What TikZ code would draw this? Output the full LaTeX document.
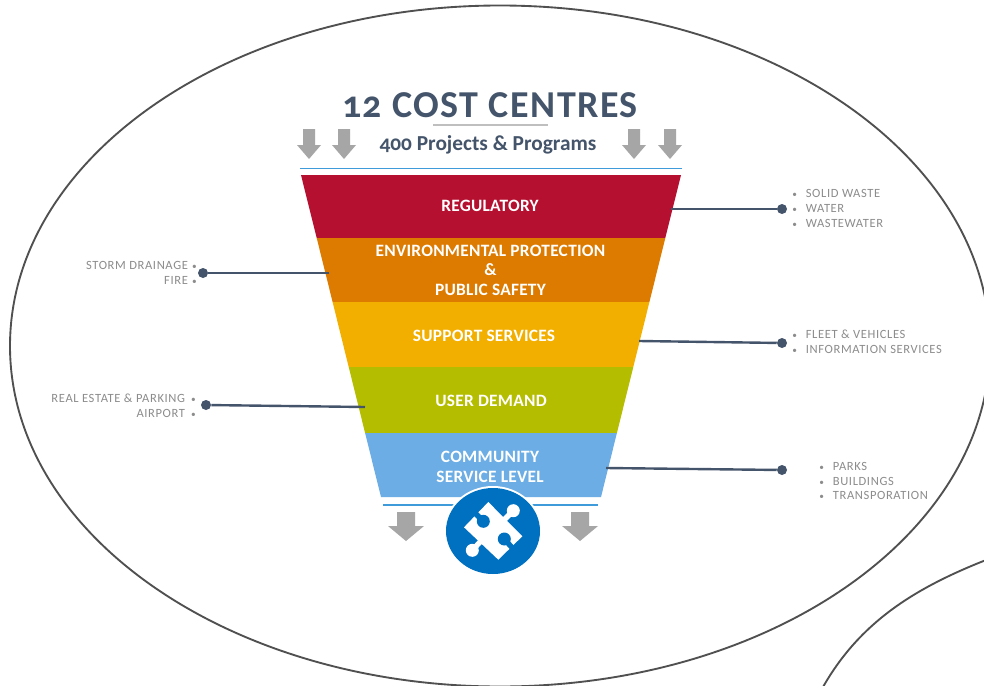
\documentclass[tikz,border=0pt]{standalone}
\usepackage{fontspec}
\setmainfont[Numbers=OldStyle]{Carlito}
\definecolor{slate}{HTML}{44546A}
\definecolor{outl}{HTML}{505050}
\definecolor{arrgray}{HTML}{A6A6A6}
\definecolor{txtgray}{HTML}{8C8C8C}
\definecolor{rulegray}{HTML}{BFBFBF}
\definecolor{skyline}{HTML}{3F9BD9}
\definecolor{bandred}{HTML}{B51030}
\definecolor{bandorange}{HTML}{DD7A00}
\definecolor{bandyellow}{HTML}{F3AF00}
\definecolor{bandgreen}{HTML}{B5BD00}
\definecolor{bandblue}{HTML}{6BADE4}
\definecolor{puzzleblue}{HTML}{0070C0}
\tikzset{
  bubble/.style={draw=outl,line width=1.4pt},
  band/.style={fill=#1},
  bandtext/.style={text=white,font=\fontsize{13}{14.6}\selectfont\bfseries\addfontfeature{LetterSpace=1.5},align=center,inner sep=0pt},
  listtext/.style={text=txtgray,font=\fontsize{9.4}{10.95}\selectfont\addfontfeature{LetterSpace=5},inner sep=0pt},
  leader/.style={draw=slate,line width=1.8pt},
  dot/.style={circle,fill=slate,minimum size=7.5pt,inner sep=0pt},
  downbig/.style={fill=arrgray},
  knob/.style={line width=4pt,line cap=round},
}
\newcommand{\arrowS}[1]{\fill[downbig] (#1-6,129)--(#1+6,129)--(#1+6,145)--(#1+12,145)--(#1,159)--(#1-12,145)--(#1-6,145)--cycle;}
\newcommand{\arrowB}[1]{\fill[downbig] (#1-9,512)--(#1+9,512)--(#1+9,526)--(#1+18,526)--(#1,541)--(#1-18,526)--(#1-9,526)--cycle;}
\newcommand{\tinybul}{{\fontsize{7}{7}\selectfont•}}
\newcommand{\bl}[1]{\makebox[10.2pt][l]{\tinybul}#1}
\newcommand{\br}[1]{#1\makebox[6.6pt][r]{\tinybul}}
\newcommand{\brw}[1]{#1\makebox[8pt][r]{\tinybul}}
\begin{document}
\begin{tikzpicture}[x=0.75pt,y=-0.75pt]
\useasboundingbox (0,0) rectangle (984,685);
\clip (0,0) rectangle (984,685);
\fill[white] (0,0) rectangle (984,685);
% speech-bubble outlines
\draw[bubble] (500,346) ellipse [x radius=490,y radius=340.5];
\draw[bubble] (823,687) .. controls (860,622) and (915,588) .. (986,560);
% title
\node[text=slate,font=\fontsize{28.5}{32}\selectfont\bfseries\addfontfeature{LetterSpace=4},inner sep=0pt] (title) at (490,105.5) {12 COST CENTRES};
\node[text=slate,font=\fontsize{16}{18}\selectfont\bfseries,inner sep=0pt] (sub) at (488,145) {400 Projects \& Programs};
\draw[rulegray,line width=.8pt] (433,125) -- (548,125);
\arrowS{309}\arrowS{344}\arrowS{634}\arrowS{670}
\draw[skyline,line width=1.1pt] (300,168.5) -- (682,168.5);
% funnel
\fill[band=bandred] (301,175) -- (681,175) -- (665.3,238) -- (316.7,238) -- cycle;
\fill[band=bandorange] (316.7,238) -- (665.3,238) -- (649.4,302) -- (332.6,302) -- cycle;
\fill[band=bandyellow] (332.6,302) -- (649.4,302) -- (633.3,367) -- (348.7,367) -- cycle;
\fill[band=bandgreen] (348.7,367) -- (633.3,367) -- (616.9,433) -- (365.1,433) -- cycle;
\fill[band=bandblue] (365.1,433) -- (616.9,433) -- (601,497) -- (381,497) -- cycle;
\node[bandtext] (reg) at (490,205.5) {REGULATORY};
\node[bandtext] (env) at (490.5,270) {ENVIRONMENTAL PROTECTION\\\&\\PUBLIC SAFETY};
\node[bandtext] (sup) at (484,335.5) {SUPPORT SERVICES};
\node[bandtext] (usr) at (491,400.5) {USER DEMAND};
\node[bandtext] (com) at (490,466.5) {COMMUNITY\\[.4pt]SERVICE LEVEL};
% bottom
\draw[skyline,line width=1.1pt] (383,505) -- (598,505);
\arrowB{406}\arrowB{580}
\fill[white] (493,531) ellipse [x radius=49,y radius=45];
\fill[puzzleblue] (493,531) ellipse [x radius=47,y radius=43];
\fill[white] (488.3,502) -- (522.3,536.3) -- (498.3,559.7) -- (464,527.3) -- cycle;
\draw[white,knob] (505,519) -- (513.3,510.7);
\fill[white] (513.3,510.7) circle (6.5);
\draw[white,knob] (480,542) -- (472.3,550.3);
\fill[white] (472.3,550.3) circle (6.5);
\draw[puzzleblue,knob] (476,514) -- (483.3,521.3);
\fill[puzzleblue] (483.3,521.3) circle (6.5);
\draw[puzzleblue,knob] (511.5,547) -- (504.3,539);
\fill[puzzleblue] (504.3,539) circle (6.5);
% leaders
\coordinate (eR) at (671,209);
\coordinate (eE) at (329,273);
\coordinate (eS) at (639,341);
\coordinate (eU) at (365,407);
\coordinate (eC) at (606,468);
\node[dot] (dR) at (782,209) {};
\node[dot] (dE) at (203,273) {};
\node[dot] (dS) at (782,343) {};
\node[dot] (dU) at (206,405) {};
\node[dot] (dC) at (782,470) {};
\draw[leader] (eR) -- (dR);
\draw[leader] (eE) -- (dE);
\draw[leader] (eS) -- (dS);
\draw[leader] (eU) -- (dU);
\draw[leader] (eC) -- (dC);
% lists
\node[listtext,anchor=west,align=left] (lR) at (792,208.5) {\bl{SOLID WASTE}\\\bl{WATER}\\\bl{WASTEWATER}};
\node[listtext,anchor=west,align=left] (lS) at (792,342) {\bl{FLEET \& VEHICLES}\\\bl{INFORMATION SERVICES}};
\node[listtext,anchor=west,align=left] (lC) at (819,481) {\bl{PARKS}\\\bl{BUILDINGS}\\\bl{TRANSPORATION}};
\node[listtext,anchor=east,align=right] (lE) at (197,273) {\br{STORM DRAINAGE}\\\br{FIRE}};
\node[listtext,anchor=east,align=right] (lU) at (196,405.5) {\brw{REAL ESTATE \& PARKING}\\\brw{AIRPORT}};
\end{tikzpicture}
\end{document}
